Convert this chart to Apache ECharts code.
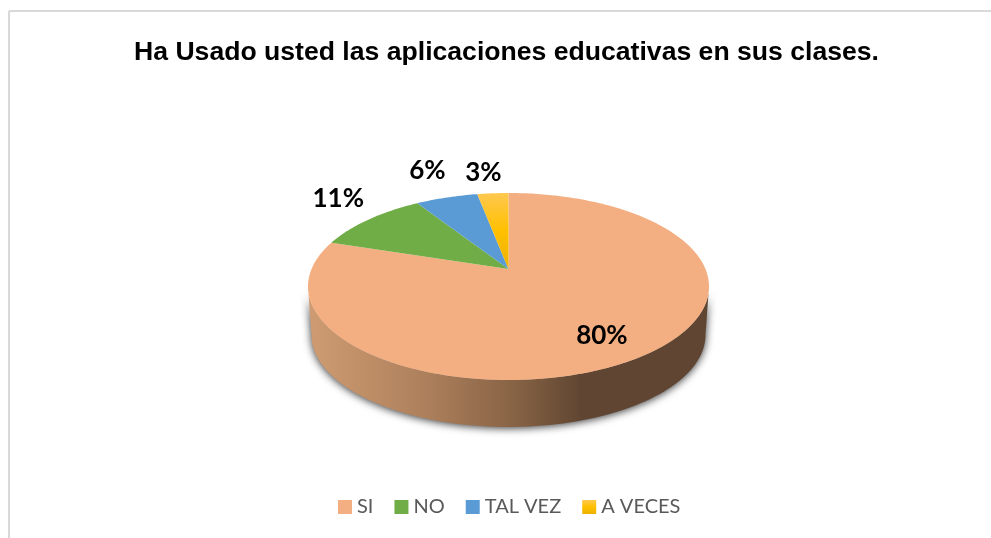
<!DOCTYPE html>
<html>
<head>
<meta charset="utf-8">
<style>
  html, body { margin: 0; padding: 0; background: #fff; }
  #chart { width: 991px; height: 538px; }
</style>
<script src="https://cdn.jsdelivr.net/npm/echarts@6/dist/echarts.min.js"></script>
</head>
<body>
<div id="chart"></div>
<script>
const titleText = 'Ha Usado usted las aplicaciones educativas en sus clases.'
const categories = ['SI', 'NO', 'TAL VEZ', 'A VECES']
const values = [80, 11, 6, 3]

const yellowFill = {
  type: 'linear', x: 0, y: 0, x2: 0, y2: 1,
  colorStops: [
    { offset: 0, color: '#FFC84F' },
    { offset: 0.5, color: '#FFC000' },
    { offset: 1, color: '#EDB100' }
  ]
}
const colors = ['#F3AF81', '#70AD47', '#5B9BD5', yellowFill]

// la tapa del pastel es una elipse vista en perspectiva
const cx = 508.5
const cy = 286.5
const rx = 200.5
const ry = 93.5
const tilt = -0.187
const lowerCy = 335
const lowerRx = 197
const lowerRy = 92

// etiquetas: radio relativo a la tapa y ajuste en px
const labelRadius = [0.77, 1.37, 1.476, 1.356]
const labelNudge = [[-7.5, 3], [14, -5], [4, 0], [-5, 1]]

const total = values.reduce((a, b) => a + b, 0)

// punto del disco (angulo desde las 12 en sentido horario) a pantalla
const project = (deg, r) => {
  const a = deg * Math.PI / 180
  const u = r * Math.sin(a)
  const v = -r * Math.cos(a)
  const d = 1 + tilt * v
  return [
    cx + rx * u * Math.sqrt(1 - tilt * tilt) / d,
    cy + ry * (v + tilt) / d
  ]
}

const slicePoints = (start, end) => {
  const pts = [project(0, 0)]
  const steps = Math.max(4, Math.ceil(end - start))
  for (let i = 0; i <= steps; i++) {
    pts.push(project(start + (end - start) * i / steps, 1))
  }
  return pts
}

const wallPoints = () => {
  const pts = []
  for (let a = 0; a <= 180; a += 2) {
    const t = a * Math.PI / 180
    pts.push([cx + rx * Math.cos(t), cy + ry * Math.sin(t)])
  }
  for (let a = 180; a >= 0; a -= 2) {
    const t = a * Math.PI / 180
    pts.push([cx + lowerRx * Math.cos(t), lowerCy + lowerRy * Math.sin(t)])
  }
  return pts
}

const wallFill = {
  type: 'linear', x: 0, y: 0, x2: 1, y2: 0,
  colorStops: [
    { offset: 0, color: '#CF9C72' },
    { offset: 0.3, color: '#AC7F5B' },
    { offset: 0.52, color: '#866244' },
    { offset: 0.68, color: '#604632' },
    { offset: 1, color: '#604632' }
  ]
}

const renderSlice = (index) => (params, api) => {
  const before = values.slice(0, index).reduce((a, b) => a + b, 0)
  const start = before / total * 360
  const end = (before + api.value(0)) / total * 360
  const children = []
  if (index === 0) {
    children.push({
      type: 'polygon',
      shape: { points: wallPoints() },
      style: {
        fill: wallFill,
        shadowBlur: 8,
        shadowColor: 'rgba(0,0,0,0.8)',
        shadowOffsetY: 1
      }
    })
  }
  children.push({
    type: 'polygon',
    shape: { points: slicePoints(start, end) },
    style: { fill: colors[index] }
  })
  const spot = project((start + end) / 2, labelRadius[index])
  children.push({
    type: 'text',
    z2: 10,
    style: {
      text: Math.round(api.value(0) / total * 100) + '%',
      x: spot[0] + labelNudge[index][0],
      y: spot[1] + labelNudge[index][1],
      align: 'center',
      verticalAlign: 'middle',
      fill: '#000',
      font: 'bold 26px Lato'
    }
  })
  return { type: 'group', children }
}

const chart = echarts.init(document.getElementById('chart'))

chart.setOption({
  animation: false,
  backgroundColor: '#fff',
  title: {
    text: titleText,
    left: 129,
    top: 34,
    textStyle: {
      fontFamily: 'Liberation Sans',
      fontSize: 26.6,
      fontWeight: 'bold',
      color: '#000'
    }
  },
  legend: {
    data: categories,
    left: 333,
    top: 492,
    icon: 'rect',
    itemWidth: 14,
    itemHeight: 14,
    itemGap: 21,
    textStyle: { fontFamily: 'Lato', fontSize: 20, color: '#595959' }
  },
  graphic: [
    { type: 'line', shape: { x1: 9, y1: 11, x2: 991, y2: 11 }, style: { stroke: '#D9D9D9', lineWidth: 2 } },
    { type: 'line', shape: { x1: 9, y1: 11, x2: 9, y2: 538 }, style: { stroke: '#D9D9D9', lineWidth: 2 } }
  ],
  series: categories.map((name, index) => ({
    type: 'custom',
    name,
    coordinateSystem: 'none',
    itemStyle: { color: colors[index] },
    z: index === 0 ? 2 : 3,
    renderItem: renderSlice(index),
    data: [[values[index]]]
  }))
})
</script>
</body>
</html>
